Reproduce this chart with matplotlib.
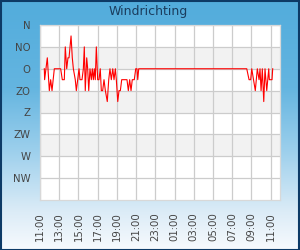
import numpy as np
import matplotlib
matplotlib.use('Agg')
import matplotlib.pyplot as plt
from matplotlib.colors import LinearSegmentedColormap
from matplotlib.patches import Rectangle

# hours after 11:00 and wind direction in degrees (N = 0, clockwise)
hours = [0.45, 0.48, 0.76, 0.97, 1.11, 1.25, 1.49, 2.15, 2.32, 2.53, 2.63, 2.78,
         2.91, 3.02, 3.23, 3.36, 3.47, 3.67, 3.78, 3.92, 4.06, 4.16, 4.37, 4.51,
         4.61, 4.71, 4.86, 4.96, 5.07, 5.20, 5.34, 5.44, 5.55, 5.65, 5.75, 5.86,
         6.00, 6.14, 6.27, 6.38, 6.52, 6.66, 6.80, 7.00, 7.15, 7.28, 7.42, 7.57,
         7.70, 7.84, 7.94, 8.09, 8.22, 8.36, 8.50, 8.71, 8.92, 9.05, 9.19, 9.33,
         9.47, 9.60, 9.81, 9.96, 10.09, 10.17, 10.27,
         21.51, 21.75, 21.92, 22.03, 22.40, 22.61, 22.79, 22.89, 23.00, 23.13,
         23.28, 23.41, 23.59, 23.80, 23.86, 24.14, 24.21]
direction = [90, 112.5, 67.5, 135, 112.5, 135, 90, 90, 112.5, 112.5, 45, 90,
             67.5, 67.5, 22.5, 67.5, 90, 112.5, 135, 112.5, 90, 112.5, 112.5, 90,
             45, 135, 67.5, 90, 135, 90, 112.5, 90, 112.5, 90, 112.5, 45,
             112.5, 112.5, 90, 135, 135, 112.5, 135, 157.5, 112.5, 90, 112.5, 90,
             112.5, 90, 112.5, 157.5, 135, 135, 112.5, 112.5, 112.5, 112.5, 135, 112.5,
             135, 112.5, 112.5, 90, 90, 112.5, 90,
             90, 112.5, 112.5, 90, 135, 90, 112.5, 90, 135, 90,
             157.5, 90, 135, 90, 112.5, 112.5, 90]

compass = ['N', 'NO', 'O', 'ZO', 'Z', 'ZW', 'W', 'NW']
time_labels = ['11:00', '13:00', '15:00', '17:00', '19:00', '21:00', '23:00',
               '01:00', '03:00', '05:00', '07:00', '09:00', '11:00']

fig = plt.figure(figsize=(3, 2.5), dpi=100)

# background gradient
bg = fig.add_axes([0, 0, 1, 1])
cmap = LinearSegmentedColormap.from_list('bg', [
    (0.0, '#52acdc'), (0.35, '#64b5e0'), (0.6, '#9ccfec'),
    (0.85, '#dcecf7'), (1.0, '#f7fafd')])
bg.imshow(np.linspace(0, 1, 256).reshape(-1, 1), aspect='auto', cmap=cmap,
          extent=[0, 1, 0, 1])
bg.set_axis_off()
fig.patches.append(Rectangle((0.002, 0.002), 0.996, 0.996, transform=fig.transFigure,
                             fill=False, edgecolor='#0d3a66', linewidth=1.5))

ax = fig.add_axes([40 / 300, 50 / 250, 240 / 300, 175 / 250])
ax.set_facecolor('white')
for lo in (45, 135, 225):
    ax.axhspan(lo, lo + 45, color='#f2f2f2', zorder=0, linewidth=0)

ax.plot(hours, direction, color='#ff0000', linewidth=0.8, zorder=3)

ax.set_ylim(360, 0)
ax.set_yticks(np.arange(0, 360, 45))
ax.set_yticklabels(compass)
ax.set_xlim(0, 24.97)
ax.set_xticks(np.arange(0, 25, 2))
ax.set_xticklabels(time_labels, rotation=90)
ax.grid(True, color='#cccccc', linewidth=0.9, zorder=1)
ax.set_axisbelow(True)
ax.tick_params(axis='y', length=0, pad=7, labelsize=7.3, labelcolor='#444444')
ax.tick_params(axis='x', length=0, pad=8.5, labelsize=7.3, labelcolor='#444444')
for s in ax.spines.values():
    s.set_color('#d8d8d8')
    s.set_linewidth(0.9)

fig.text(0.495, 1 - 12 / 250, 'Windrichting', ha='center', va='center',
         fontsize=9, color='#1b3d5e')

fig.savefig('out.png', dpi=100)
